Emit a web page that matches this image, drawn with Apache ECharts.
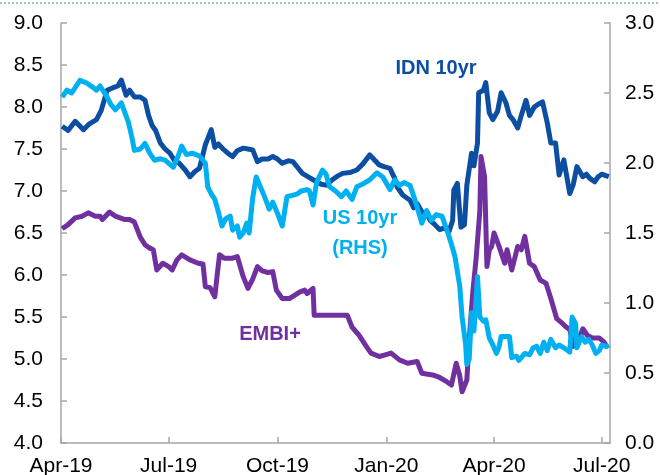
<!DOCTYPE html>
<html>
<head>
<meta charset="utf-8">
<script src="https://cdn.jsdelivr.net/npm/echarts@6/dist/echarts.min.js"></script>
<style>
  html, body { margin: 0; padding: 0; background: #fff; }
  #chart { width: 660px; height: 475px; }
</style>
</head>
<body>
<div id="chart"></div>
<script>
// x values are days since 1 Apr 2019
const tickDays = [0, 91, 183, 275, 366, 457];
const tickLabels = ["Apr-19", "Jul-19", "Oct-19", "Jan-20", "Apr-20", "Jul-20"];

// IDN 10yr yield, % (left axis)
const idnDay = [1, 6, 12, 19, 24, 30, 34, 39, 44, 48, 51, 55, 58, 62, 67, 71, 74, 77, 80, 84,
  88, 92, 96, 100, 105, 109, 113, 117, 122, 124, 127, 130, 133, 137, 141, 145, 149, 154, 158, 162,
  166, 170, 175, 179, 183, 187, 192, 196, 200, 204, 210, 216, 220, 224, 229, 234, 238, 244, 250, 255,
  261, 265, 269, 273, 278, 282, 284, 289, 295, 298, 301, 305, 309, 312, 316, 320, 324, 328, 331, 332,
  335, 338, 341, 343, 347, 349, 352, 353, 357, 359, 362, 365, 369, 372, 376, 379, 382, 386, 389, 393,
  396, 400, 403, 407, 411, 414, 418, 421, 425, 430, 433, 436, 441, 444, 447, 451, 454, 457, 461, 463];
const idnVal = [7.77, 7.72, 7.83, 7.73, 7.8, 7.85, 7.96, 8.2, 8.23, 8.25, 8.32, 8.14, 8.2, 8.12, 8.12, 8.08, 7.9, 7.78, 7.72, 7.57,
  7.5, 7.45, 7.36, 7.33, 7.25, 7.17, 7.23, 7.27, 7.55, 7.62, 7.73, 7.52, 7.56, 7.5, 7.45, 7.41, 7.48, 7.51, 7.5, 7.49,
  7.35, 7.38, 7.38, 7.41, 7.38, 7.33, 7.36, 7.35, 7.28, 7.21, 7.16, 7.11, 7.08, 7.07, 7.13, 7.18, 7.21, 7.22, 7.25, 7.32,
  7.43, 7.37, 7.31, 7.29, 7.27, 7.15, 7.05, 6.95, 6.89, 6.8, 6.85, 6.75, 6.74, 6.65, 6.6, 6.54, 6.56, 6.52, 6.65, 7.01,
  7.09, 6.57, 6.6, 7.07, 7.45, 7.3, 7.57, 8.17, 8.2, 8.29, 7.93, 7.85, 7.95, 8.17, 8.05, 7.9, 7.85, 7.75, 7.9, 8.08,
  7.9, 8.0, 8.03, 8.06, 7.81, 7.57, 7.57, 7.19, 7.37, 6.97, 7.08, 7.29, 7.17, 7.2, 7.15, 7.11, 7.17, 7.2, 7.18, 7.17];

// US 10yr yield, % (right axis)
const usDay = [1, 5, 9, 16, 22, 27, 30, 33, 39, 42, 46, 51, 57, 60, 62, 67, 71, 75, 79, 84,
  88, 92, 95, 99, 102, 106, 111, 114, 117, 122, 124, 127, 130, 133, 136, 139, 143, 145, 149, 151,
  154, 157, 159, 162, 165, 169, 172, 176, 179, 183, 187, 191, 196, 200, 203, 208, 210, 213, 216, 221,
  224, 227, 232, 237, 241, 246, 250, 255, 261, 267, 272, 278, 282, 286, 290, 295, 299, 305, 309, 313,
  317, 322, 327, 330, 333, 337, 339, 342, 343, 345, 347, 349, 352, 354, 357, 359, 362, 365, 368, 370,
  372, 376, 379, 381, 385, 387, 392, 396, 399, 402, 405, 408, 411, 414, 418, 421, 425, 430, 432, 435,
  436, 440, 443, 446, 449, 452, 455, 457, 461, 463];
const usVal = [2.47, 2.52, 2.5, 2.59, 2.57, 2.54, 2.52, 2.55, 2.47, 2.42, 2.38, 2.43, 2.29, 2.18, 2.09, 2.1, 2.14, 2.07, 2.02, 2.03,
  2.02, 1.99, 1.97, 2.05, 2.12, 2.06, 2.07, 2.06, 2.05, 2.0, 1.83, 1.78, 1.74, 1.65, 1.55, 1.6, 1.62, 1.52, 1.55, 1.47,
  1.5, 1.57, 1.5, 1.75, 1.9, 1.82, 1.76, 1.67, 1.72, 1.64, 1.55, 1.76, 1.77, 1.78, 1.8, 1.81, 1.8, 1.7, 1.86, 1.95,
  1.92, 1.83, 1.8, 1.76, 1.8, 1.74, 1.83, 1.85, 1.88, 1.93, 1.9, 1.81, 1.88, 1.84, 1.86, 1.84, 1.74, 1.57, 1.66, 1.59,
  1.63, 1.62, 1.5, 1.42, 1.33, 1.12, 0.9, 0.7, 0.56, 0.6, 0.93, 0.8, 1.19, 0.9, 0.87, 0.88, 0.75, 0.7, 0.64, 0.68,
  0.76, 0.76, 0.76, 0.61, 0.62, 0.59, 0.64, 0.63, 0.68, 0.69, 0.64, 0.72, 0.66, 0.74, 0.68, 0.7, 0.68, 0.65, 0.9, 0.85,
  0.68, 0.76, 0.72, 0.74, 0.7, 0.64, 0.66, 0.7, 0.69, 0.7];

// EMBI+ yield, % (left axis)
const embiDay = [1, 6, 12, 18, 23, 29, 33, 35, 41, 46, 50, 54, 58, 62, 67, 71, 75, 78, 81, 86,
  91, 94, 98, 102, 109, 116, 120, 122, 126, 130, 132, 134, 138, 145, 149, 154, 158, 162, 166, 170,
  175, 179, 182, 187, 193, 202, 206, 208, 213, 214, 227, 242, 246, 252, 258, 262, 269, 274, 279, 286,
  293, 301, 305, 314, 320, 326, 330, 334, 337, 339, 343, 345, 348, 351, 354, 355, 358, 360, 362, 364,
  366, 370, 375, 377, 381, 386, 389, 392, 396, 400, 405, 410, 414, 419, 424, 427, 430, 433, 437, 441,
  445, 449, 455, 459, 462];
const embiVal = [6.55, 6.6, 6.68, 6.7, 6.74, 6.7, 6.7, 6.66, 6.75, 6.7, 6.68, 6.66, 6.66, 6.63, 6.45, 6.36, 6.32, 6.3, 6.06, 6.14,
  6.1, 6.06, 6.18, 6.24, 6.18, 6.14, 6.13, 5.86, 5.85, 5.74, 6.0, 6.24, 6.2, 6.2, 6.22, 5.98, 5.84, 5.95, 6.1, 6.05,
  6.03, 6.04, 5.82, 5.72, 5.72, 5.8, 5.82, 5.78, 5.84, 5.52, 5.52, 5.52, 5.38, 5.28, 5.15, 5.07, 5.03, 5.05, 5.07, 4.99,
  4.95, 4.97, 4.83, 4.81, 4.78, 4.73, 4.69, 4.95, 4.8, 4.61, 4.75, 5.23, 5.79, 6.22, 6.77, 7.41, 7.17, 6.1, 6.3, 6.34,
  6.5, 6.35, 6.14, 6.3, 6.06, 6.34, 6.3, 6.46, 6.14, 6.1, 5.94, 5.9, 5.72, 5.48, 5.42, 5.38, 5.35, 5.15, 5.2, 5.36,
  5.28, 5.25, 5.25, 5.2, 5.13];

const pair = (xs, ys) => xs.map((x, i) => [x, ys[i]]);

const axisGray = { lineStyle: { color: "#a6a6a6", width: 1.5 } };
const labelFont = { color: "#000", fontSize: 21, fontFamily: "Liberation Sans, Arial, sans-serif" };
const noteFont = { fontSize: 20, fontWeight: "bold", fontFamily: "Liberation Sans, Arial, sans-serif" };

let myChart = echarts.init(document.getElementById("chart"));
const option = {
  animation: false,
  grid: { left: 61, right: 50, top: 23, bottom: 32, containLabel: false, outerBoundsMode: "none" },
  xAxis: {
    type: "value",
    min: 0,
    max: 464,
    splitLine: { show: false },
    axisLine: axisGray,
    axisTick: { inside: true, length: 6, lineStyle: { color: "#a6a6a6", width: 1.5 }, customValues: tickDays },
    axisLabel: Object.assign({
      margin: 13,
      customValues: tickDays,
      formatter: v => tickLabels[tickDays.indexOf(v)] || ""
    }, labelFont)
  },
  yAxis: [
    {
      type: "value",
      min: 4,
      max: 9,
      interval: 0.5,
      splitLine: { show: false },
      axisLine: Object.assign({ show: true }, axisGray),
      axisTick: { show: true, inside: true, length: 6, lineStyle: { color: "#a6a6a6", width: 1.5 } },
      axisLabel: Object.assign({ margin: 18, formatter: v => v.toFixed(1) }, labelFont)
    },
    {
      type: "value",
      min: 0,
      max: 3,
      interval: 0.5,
      position: "right",
      splitLine: { show: false },
      axisLine: Object.assign({ show: true }, axisGray),
      axisTick: { show: true, inside: true, length: 6, lineStyle: { color: "#a6a6a6", width: 1.5 } },
      axisLabel: Object.assign({ margin: 15, formatter: v => v.toFixed(1) }, labelFont)
    }
  ],
  series: [
    {
      name: "EMBI+",
      type: "line",
      yAxisIndex: 0,
      showSymbol: false,
      data: pair(embiDay, embiVal),
      lineStyle: { color: "#7030a0", width: 5, join: "round" },
      itemStyle: { color: "#7030a0" }
    },
    {
      name: "IDN 10yr",
      type: "line",
      yAxisIndex: 0,
      showSymbol: false,
      data: pair(idnDay, idnVal),
      lineStyle: { color: "#0c4ea2", width: 5, join: "round" },
      itemStyle: { color: "#0c4ea2" }
    },
    {
      name: "US 10yr (RHS)",
      type: "line",
      yAxisIndex: 1,
      showSymbol: false,
      data: pair(usDay, usVal),
      lineStyle: { color: "#00b0f0", width: 5, join: "round" },
      itemStyle: { color: "#00b0f0" }
    }
  ],
  graphic: [
    {
      type: "line",
      shape: { x1: 0, y1: 3, x2: 660, y2: 3 },
      style: { stroke: "#4a78c2", lineWidth: 1, lineDash: [2, 2] }
    },
    {
      type: "text", x: 436, y: 68,
      style: Object.assign({ text: "IDN 10yr", fill: "#0c4ea2", align: "center", verticalAlign: "middle" }, noteFont)
    },
    {
      type: "text", x: 360, y: 233,
      style: Object.assign({ text: "US 10yr\n(RHS)", fill: "#00b0f0", align: "center", verticalAlign: "middle", lineHeight: 30 }, noteFont)
    },
    {
      type: "text", x: 270, y: 334,
      style: Object.assign({ text: "EMBI+", fill: "#7030a0", align: "center", verticalAlign: "middle" }, noteFont)
    }
  ]
};

myChart.setOption(option);
</script>
</body>
</html>
